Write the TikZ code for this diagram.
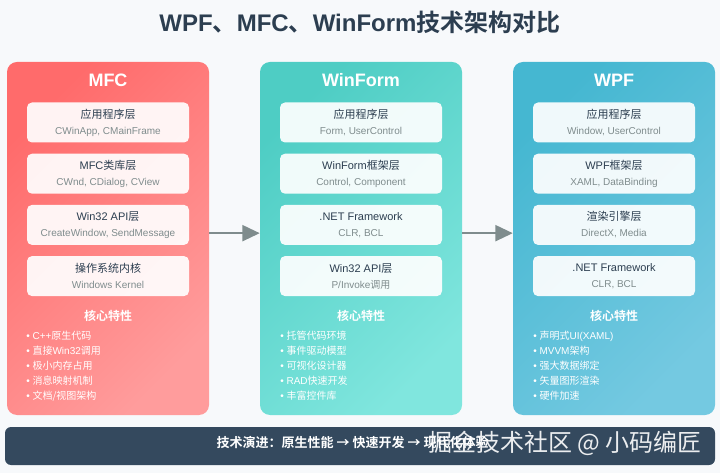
\documentclass[tikz,border=0pt]{standalone}
\usepackage{fontspec}
\setmainfont{Liberation Sans}
\newfontfamily\zhfont{Noto Sans CJK SC}[BoldFont={Noto Sans CJK SC Bold}]
\newcommand{\zhs}[1]{{\zhfont #1}}
\newcommand{\laysub}[1]{{\fontsize{7.5}{12}\selectfont\color{subgray}#1}}
\usetikzlibrary{positioning,arrows.meta}

\definecolor{bgpage}{HTML}{F7F9FB}
\definecolor{ink}{HTML}{2C3E50}
\definecolor{subgray}{HTML}{7F8C8D}
\definecolor{mfcA}{HTML}{FF6B6B}
\definecolor{mfcB}{HTML}{FF9C9C}
\definecolor{wfA}{HTML}{4ECDC4}
\definecolor{wfB}{HTML}{80E6DE}
\definecolor{wpfA}{HTML}{45B7D1}
\definecolor{wpfB}{HTML}{74C9E1}
\definecolor{barbg}{HTML}{34495E}

\tikzset{
  panel/.style={rounded corners=7.5pt, minimum width=151.5pt, minimum height=264.75pt, inner sep=0pt},
  layer/.style={fill=white, fill opacity=0.92, text opacity=1, rounded corners=3.75pt,
    minimum width=121.5pt, minimum height=30pt, inner sep=0pt, align=center, text=ink,
    font=\fontsize{8.25}{12}\selectfont},
  head/.style={text=white, font=\bfseries\fontsize{13.5}{16}\selectfont},
  corehead/.style={text=white, font=\zhfont\bfseries\fontsize{9}{11}\selectfont},
  feat/.style={text=white, align=left, inner sep=0pt, anchor=north west,
    font=\fontsize{7.5}{11.25}\selectfont},
  flow/.style={draw=subgray, line width=1.5pt, -{Triangle[length=13pt,width=12pt]}},
}

\begin{document}
\begin{tikzpicture}[x=0.75pt, y=-0.75pt]
  % 背景
  \fill[bgpage] (0,0) rectangle (720,473);
  \useasboundingbox (0,0) rectangle (720,473);

  \node[text=ink, font=\bfseries\fontsize{18}{22}\selectfont] (title) at (360,22)
    {WPF\zhs{、}MFC\zhs{、}WinForm\zhs{技术架构对比}};

  % MFC
  \begin{scope}[shift={(0,0)}]
    \node[panel, top color=mfcA, bottom color=mfcB, shading angle=45] (mfc) at (108,238.5) {};
    \node[head] (mfcH) at (108,80) {MFC};
    \node[layer] (mfcL1) at (108,122.5) {\zhs{应用程序层}\\\laysub{CWinApp, CMainFrame}};
    \node[layer, below=8pt of mfcL1] (mfcL2) {MFC\zhs{类库层}\\\laysub{CWnd, CDialog, CView}};
    \node[layer, below=8pt of mfcL2] (mfcL3) {Win32 API\zhs{层}\\\laysub{CreateWindow, SendMessage}};
    \node[layer, below=8pt of mfcL3] (mfcL4) {\zhs{操作系统内核}\\\laysub{Windows Kernel}};
    \node[corehead] (mfcC) at (108,316) {核心特性};
    \node[feat] (mfcF) at (26,331) {• C++\zhs{原生代码}\\• \zhs{直接}Win32\zhs{调用}\\• \zhs{极小内存占用}\\• \zhs{消息映射机制}\\• \zhs{文档/视图架构}};
  \end{scope}

  % WinForm
  \begin{scope}[shift={(253,0)}]
    \node[panel, top color=wfA, bottom color=wfB, shading angle=45] (winform) at (108,238.5) {};
    \node[head] (wfH) at (108,80) {WinForm};
    \node[layer] (wfL1) at (108,122.5) {\zhs{应用程序层}\\\laysub{Form, UserControl}};
    \node[layer, below=8pt of wfL1] (wfL2) {WinForm\zhs{框架层}\\\laysub{Control, Component}};
    \node[layer, below=8pt of wfL2] (wfL3) {.NET Framework\\\laysub{CLR, BCL}};
    \node[layer, below=8pt of wfL3] (wfL4) {Win32 API\zhs{层}\\\laysub{P/Invoke\zhs{调用}}};
    \node[corehead] (wfC) at (108,316) {核心特性};
    \node[feat] (wfF) at (27,331) {• \zhs{托管代码环境}\\• \zhs{事件驱动模型}\\• \zhs{可视化设计器}\\• RAD\zhs{快速开发}\\• \zhs{丰富控件库}};
  \end{scope}

  % WPF
  \begin{scope}[shift={(506,0)}]
    \node[panel, top color=wpfA, bottom color=wpfB, shading angle=45] (wpf) at (108,238.5) {};
    \node[head] (wpfH) at (108,80) {WPF};
    \node[layer] (wpfL1) at (108,122.5) {\zhs{应用程序层}\\\laysub{Window, UserControl}};
    \node[layer, below=8pt of wpfL1] (wpfL2) {WPF\zhs{框架层}\\\laysub{XAML, DataBinding}};
    \node[layer, below=8pt of wpfL2] (wpfL3) {\zhs{渲染引擎层}\\\laysub{DirectX, Media}};
    \node[layer, below=8pt of wpfL3] (wpfL4) {.NET Framework\\\laysub{CLR, BCL}};
    \node[corehead] (wpfC) at (108,316) {核心特性};
    \node[feat] (wpfF) at (27,331) {• \zhs{声明式}UI(XAML)\\• MVVM\zhs{架构}\\• \zhs{强大数据绑定}\\• \zhs{矢量图形渲染}\\• \zhs{硬件加速}};
  \end{scope}

  % 演进箭头
  \draw[flow] ([yshift=4pt]mfc.east) -- ([yshift=4pt]winform.west);
  \draw[flow] ([yshift=4pt]winform.east) -- ([yshift=4pt]wpf.west);

  % 底栏
  \node[fill=barbg, rounded corners=4.5pt, minimum width=532.5pt, minimum height=28.5pt] (evo) at (360,446) {};
  \node[text=white, font=\zhfont\bfseries\fontsize{9.75}{12}\selectfont, anchor=west] (evoT) at (212,443)
    {技术演进：原生性能 → 快速开发 → 现代化体验};
  \node[text=white, text opacity=0.9, font=\zhfont\fontsize{18}{20}\selectfont] (wm) at (565,443)
    {掘金技术社区 @ 小码编匠};
\end{tikzpicture}
\end{document}
